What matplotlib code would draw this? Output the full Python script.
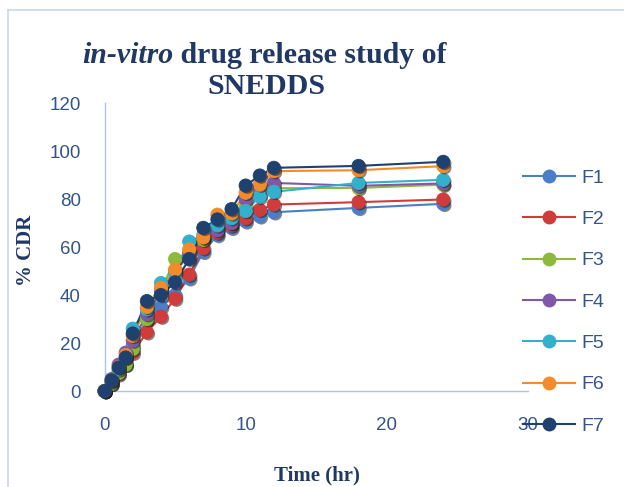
import matplotlib
matplotlib.use("Agg")
import matplotlib.pyplot as plt
import matplotlib.patheffects as pe
from matplotlib.lines import Line2D

# sampling times (hr)
time_hr = [0, 0.5, 1, 1.5, 2, 3, 4, 5, 6, 7, 8, 9, 10, 11, 12, 18, 24]

# % CDR
f1 = [0, 3.5, 8, 12, 19, 30, 35, 40, 47, 58, 65, 68, 70.7, 72.8, 74.5, 76.3, 78]
f2 = [0, 3, 7, 11, 16, 24.5, 31, 38.5, 48.5, 59.5, 66, 69, 72, 75.5, 77.7, 78.7, 79.8]
f3 = [0, 3, 7.5, 11, 17.5, 30, 42, 55, 58, 63, 68, 70, 77, 82, 84.5, 84.6, 86]
f4 = [0, 5, 11, 16, 21, 32, 42, 50, 57, 64, 67, 70, 80, 84, 86.7, 85.5, 86.5]
f5 = [0, 4, 9, 14, 26, 34, 45, 49, 62.3, 65, 69, 72, 75, 81, 83, 86.7, 88]
f6 = [0, 4.5, 10, 15, 23, 35, 43, 50.6, 59, 64, 73.5, 74, 82.6, 86, 91.6, 92, 93.7]
f7 = [0, 4.5, 9.8, 14, 24, 37.5, 40, 45.3, 55, 68, 71.5, 75.8, 85.6, 89.8, 93, 93.8, 95.5]

labels = ["F1", "F2", "F3", "F4", "F5", "F6", "F7"]
series = [f1, f2, f3, f4, f5, f6, f7]
colors = ["#4A7EC7", "#D03B3B", "#8DBA3E", "#7F59A8", "#33B1CC", "#F48B2B", "#1E416F"]

txt_col = "#34558B"
title_col = "#1F3864"
spine_col = "#A9C6EA"

fig = plt.figure(figsize=(6.24, 4.87), dpi=100)
ax = fig.add_axes([0.1675, 0.197, 0.6785, 0.5915])

shadow = [pe.SimplePatchShadow(offset=(1.2, -1.2), shadow_rgbFace="#222222", alpha=0.55), pe.Normal()]

handles = []
for vals, c, lab in zip(series, colors, labels):
    ax.plot(time_hr, vals, color=c, lw=1.5, zorder=2, clip_on=False)
    ax.plot(time_hr, vals, ls="none", marker="o", ms=9.5, color=c,
            mec=c, mew=0.6, path_effects=shadow, zorder=3, clip_on=False)
    handles.append(Line2D([], [], color=c, lw=1.5, marker="o", ms=9, mec=c))

ax.set_xlim(0, 30)
ax.set_ylim(0, 120)
ax.set_xticks([0, 10, 20, 30])
ax.set_yticks(range(0, 121, 20))
for s in ["top", "right"]:
    ax.spines[s].set_visible(False)
for s in ["left", "bottom"]:
    ax.spines[s].set_color(spine_col)
    ax.spines[s].set_linewidth(1.0)
ax.tick_params(axis="y", length=0, pad=17, labelsize=13.5, labelcolor=txt_col)
ax.tick_params(axis="x", length=0, pad=19, labelsize=13.5, labelcolor=txt_col)
for lbl in ax.get_xticklabels() + ax.get_yticklabels():
    lbl.set_fontfamily("Liberation Sans")
ax.patch.set_alpha(0)

leg = ax.legend(handles, labels, loc="center left", bbox_to_anchor=(0.838, 0.380),
                bbox_transform=fig.transFigure, frameon=False, borderpad=0,
                borderaxespad=0, handlelength=2.7, handletextpad=0.3,
                labelspacing=1.22, prop={"family": "Liberation Sans", "size": 14})
for t in leg.get_texts():
    t.set_color(txt_col)
leg.set_zorder(5)

# title: italic part + bold part
serif = "Liberation Serif"
t1 = fig.text(82 / 624, 1 - 63 / 487, "in-vitro", fontsize=21.5, fontweight="bold",
              fontstyle="italic", family=serif, color=title_col, va="baseline", ha="left")
ax.annotate(" drug release study of", xy=(1, 0), xycoords=t1, fontsize=21.5,
            fontweight="bold", family=serif, color=title_col, va="bottom", ha="left")
fig.text(266 / 624, 1 - 94 / 487, "SNEDDS", fontsize=21.5, fontweight="bold",
         family=serif, color=title_col, va="baseline", ha="center")

fig.text(26 / 624, 1 - 250 / 487, "% CDR", rotation=90, fontsize=15, fontweight="bold",
         family=serif, color=title_col, va="center", ha="center")
fig.text(317 / 624, 1 - 475 / 487, "Time (hr)", fontsize=15, fontweight="bold",
         family=serif, color=title_col, va="center", ha="center")

# chart area border (left and top edges visible)
fig.add_artist(Line2D([8 / 624, 8 / 624], [0, 1 - 10 / 487], transform=fig.transFigure,
                      color="#C8D8EC", lw=1.2))
fig.add_artist(Line2D([8 / 624, 1], [1 - 10 / 487, 1 - 10 / 487], transform=fig.transFigure,
                      color="#C8D8EC", lw=1.2))

fig.savefig("out.png", dpi=100)
